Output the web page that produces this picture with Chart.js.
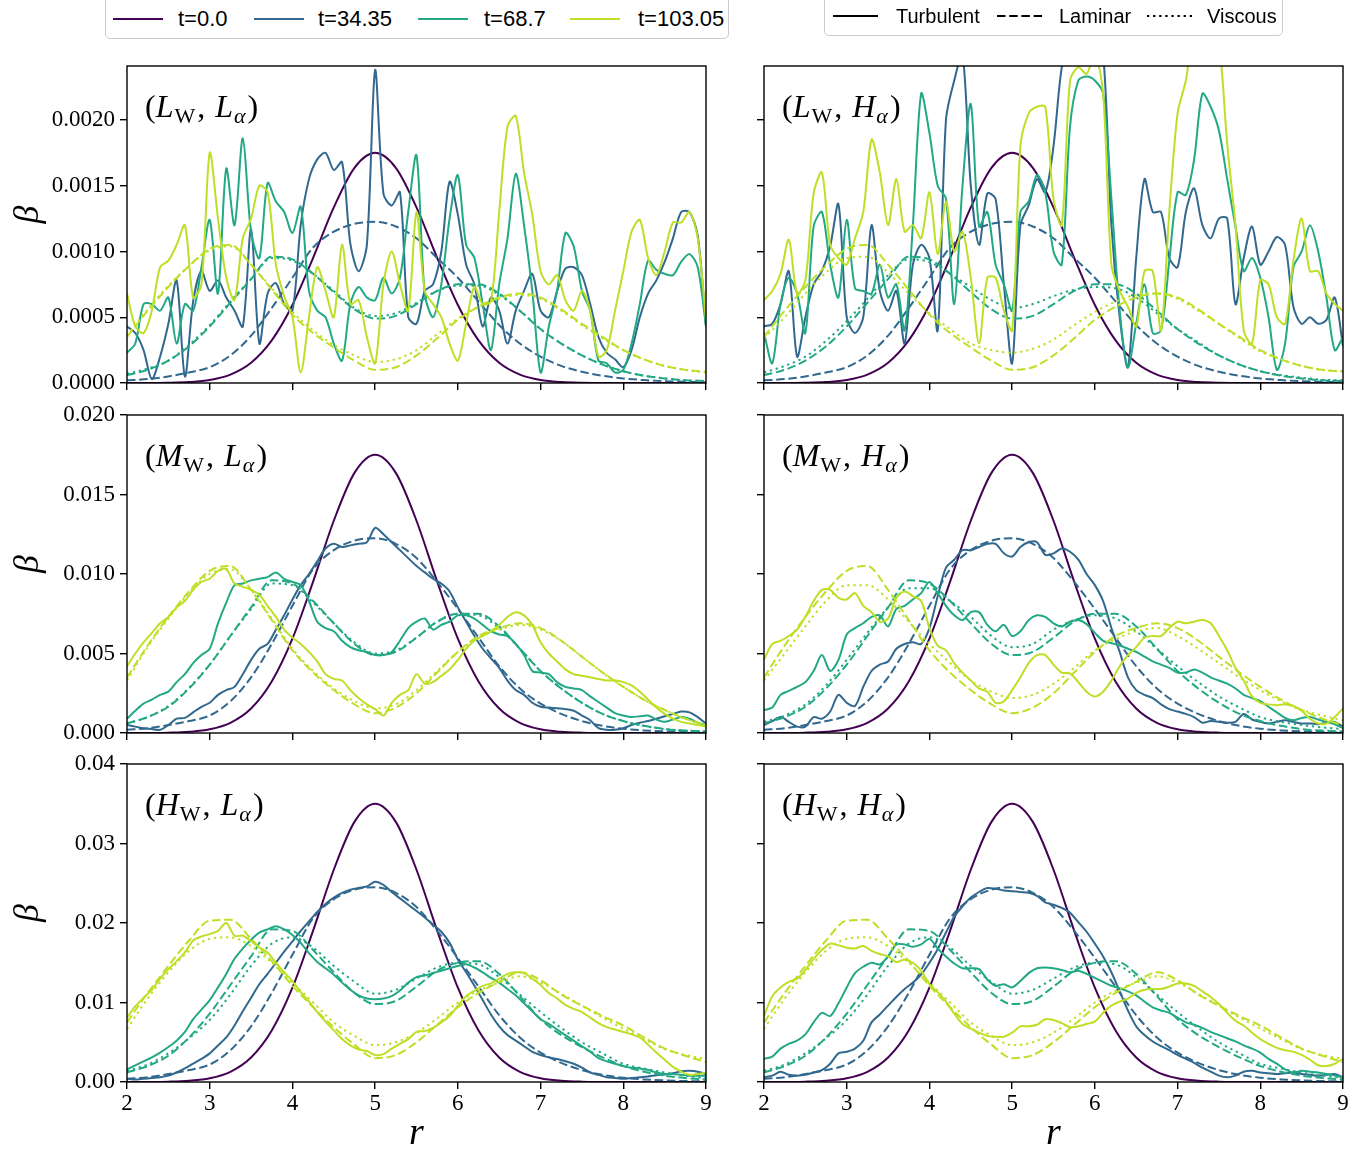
<!DOCTYPE html>
<html>
<head>
<meta charset="utf-8">
<title>beta profiles</title>
<script src="https://cdn.jsdelivr.net/npm/chart.js@4.4.1/dist/chart.umd.min.js"></script>
<style>
  html, body { margin: 0; padding: 0; background: #fff; }
  body { position: relative; width: 1372px; height: 1154px; overflow: hidden; }
  canvas { position: absolute; }
  .legend { position: absolute; background: #fff; border: 1px solid #cccccc; border-radius: 5px; z-index: 2; box-sizing: border-box; }
  .legend svg, .legend span { position: absolute; }
  .legend span { font-family: "Liberation Sans", Arial, sans-serif; color: #000; line-height: 1; white-space: nowrap; }
</style>
</head>
<body>
<div class="legend" id="legendTime" style="left:105px; top:-4px; width:624px; height:43px;"></div>
<div class="legend" id="legendModel" style="left:824px; top:-4px; width:459px; height:40px;"></div>
<script>
// beta values are stored in units of 1e-3

// r grids
const rCoarse = [2, 2.25, 2.5, 2.75, 3, 3.25, 3.5, 3.75, 4, 4.25, 4.5, 4.75, 5, 5.25, 5.5, 5.75,
  6, 6.25, 6.5, 6.75, 7, 7.25, 7.5, 7.75, 8, 8.25, 8.5, 8.75, 9];
const rFine = [
  2.0, 2.1, 2.2, 2.3, 2.4, 2.5, 2.6, 2.7, 2.8, 2.9,
  3.0, 3.1, 3.2, 3.3, 3.4, 3.5, 3.6, 3.7, 3.8, 3.9,
  4.0, 4.1, 4.2, 4.3, 4.4, 4.5, 4.6, 4.7, 4.8, 4.9,
  5.0, 5.1, 5.2, 5.3, 5.4, 5.5, 5.6, 5.7, 5.8, 5.9,
  6.0, 6.1, 6.2, 6.3, 6.4, 6.5, 6.6, 6.7, 6.8, 6.9,
  7.0, 7.1, 7.2, 7.3, 7.4, 7.5, 7.6, 7.7, 7.8, 7.9,
  8.0, 8.1, 8.2, 8.3, 8.4, 8.5, 8.6, 8.7, 8.8, 8.9,
  9.0];

// legend entries
const timeLabels = ['t=0.0', 't=34.35', 't=68.7', 't=103.05'];
const modelLabels = ['Turbulent', 'Laminar', 'Viscous'];

// axis ticks
const xTicks = [2, 3, 4, 5, 6, 7, 8, 9];
const xTickLabels = ['2', '3', '4', '5', '6', '7', '8', '9'];
const yTicksTop = [0, 0.5, 1, 1.5, 2];
const yLabelsTop = ['0.0000', '0.0005', '0.0010', '0.0015', '0.0020'];
const yTicksMid = [0, 5, 10, 15, 20];
const yLabelsMid = ['0.000', '0.005', '0.010', '0.015', '0.020'];
const yTicksBot = [0, 10, 20, 30, 40];
const yLabelsBot = ['0.00', '0.01', '0.02', '0.03', '0.04'];

// t = 0 profile (same in every column)
const t0Top = [0.0001, 0.0005, 0.002, 0.0074, 0.023, 0.064, 0.154, 0.324, 0.593, 0.952, 1.335, 1.636, 1.75,
  1.636, 1.335, 0.952, 0.593, 0.324, 0.154, 0.064, 0.023, 0.0074, 0.002, 0.0005, 0.0001, 0, 0, 0, 0];
const t0Mid = [0.001, 0.005, 0.02, 0.074, 0.23, 0.64, 1.54, 3.24, 5.93, 9.52, 13.35, 16.36, 17.5,
  16.36, 13.35, 9.52, 5.93, 3.24, 1.54, 0.64, 0.23, 0.074, 0.02, 0.005, 0.001, 0, 0, 0, 0];
const t0Bot = [0.002, 0.01, 0.04, 0.15, 0.46, 1.28, 3.08, 6.48, 11.86, 19.04, 26.7, 32.72, 35,
  32.72, 26.7, 19.04, 11.86, 6.48, 3.08, 1.28, 0.46, 0.15, 0.04, 0.01, 0.002, 0, 0, 0, 0];

// laminar (dashed), same in both columns of a row
const lamBlueTop = [0.02, 0.03, 0.05, 0.08, 0.12, 0.21, 0.36, 0.57, 0.8, 1.03, 1.15, 1.21, 1.225,
  1.19, 1.1, 0.95, 0.8, 0.62, 0.44, 0.3, 0.2, 0.13, 0.085, 0.055, 0.035, 0.022, 0.014, 0.009, 0.006];
const lamTealTop = [0.06, 0.1, 0.17, 0.28, 0.43, 0.61, 0.79, 0.96, 0.94, 0.83, 0.69, 0.56, 0.49,
  0.51, 0.6, 0.7, 0.75, 0.75, 0.68, 0.55, 0.41, 0.3, 0.21, 0.14, 0.09, 0.055, 0.035, 0.02, 0.015];
const lamYellowTop = [0.35, 0.55, 0.73, 0.89, 1.02, 1.05, 0.9, 0.71, 0.52, 0.38, 0.27, 0.17, 0.1,
  0.12, 0.21, 0.34, 0.48, 0.58, 0.65, 0.68, 0.65, 0.56, 0.45, 0.35, 0.25, 0.18, 0.13, 0.1, 0.085];
const lamBlueMid = [0.2, 0.3, 0.5, 0.75, 1.1, 2.0, 3.5, 5.6, 8.0, 10.3, 11.5, 12.1, 12.25,
  11.9, 11.0, 9.5, 7.8, 6.0, 4.2, 2.8, 1.85, 1.2, 0.75, 0.45, 0.27, 0.16, 0.1, 0.06, 0.04];
const lamTealMid = [0.6, 1.0, 1.65, 2.8, 4.3, 6.1, 7.9, 9.6, 9.4, 8.3, 6.9, 5.6, 4.9,
  5.1, 6.0, 7.0, 7.5, 7.5, 6.7, 5.3, 3.9, 2.8, 1.9, 1.2, 0.75, 0.45, 0.25, 0.15, 0.1];
const lamYellowMid = [3.5, 5.5, 7.3, 8.9, 10.2, 10.5, 9.0, 7.1, 5.2, 3.8, 2.7, 1.8, 1.25,
  1.6, 2.5, 3.8, 5.1, 6.1, 6.6, 6.9, 6.6, 5.8, 4.8, 3.8, 2.9, 2.1, 1.45, 0.9, 0.5];
const lamBlueBot = [0.4, 0.6, 1.0, 1.5, 2.2, 4.0, 7.0, 11.2, 16.0, 20.6, 23.0, 24.2, 24.5,
  23.8, 22.0, 19.0, 15.6, 12.0, 8.4, 5.6, 3.7, 2.4, 1.5, 0.9, 0.54, 0.32, 0.2, 0.12, 0.08];
const lamTealBot = [1.2, 2.0, 3.3, 5.6, 8.6, 12.2, 15.8, 19.2, 19.0, 16.6, 13.8, 11.2, 9.8,
  10.2, 12.0, 14.0, 15.0, 15.2, 13.6, 10.8, 7.9, 5.9, 4.4, 3.1, 2.0, 1.3, 0.8, 0.5, 0.3];
const lamYellowBot = [7.5, 11.2, 14.6, 17.8, 20.3, 20.4, 18.0, 15.2, 12.1, 9.4, 6.9, 4.7, 3.0,
  3.4, 5.0, 7.2, 9.4, 11.2, 12.6, 13.8, 12.8, 11.0, 9.6, 8.3, 7.1, 5.6, 4.2, 3.3, 2.5];

// viscous (dotted)
const visTealTL = [0.07, 0.11, 0.17, 0.29, 0.44, 0.62, 0.79, 0.95, 0.93, 0.83, 0.7, 0.57, 0.51,
  0.53, 0.61, 0.7, 0.74, 0.74, 0.67, 0.55, 0.41, 0.3, 0.21, 0.14, 0.09, 0.055, 0.035, 0.02, 0.015];
const visYellowTL = [0.36, 0.56, 0.74, 0.89, 1.01, 1.04, 0.9, 0.72, 0.54, 0.4, 0.29, 0.21, 0.16,
  0.18, 0.25, 0.37, 0.49, 0.58, 0.64, 0.67, 0.64, 0.55, 0.44, 0.34, 0.25, 0.18, 0.13, 0.1, 0.08];
const visTealTR = [0.08, 0.13, 0.2, 0.32, 0.47, 0.64, 0.82, 0.94, 0.92, 0.83, 0.73, 0.63, 0.57,
  0.6, 0.66, 0.71, 0.73, 0.72, 0.65, 0.53, 0.41, 0.31, 0.21, 0.14, 0.09, 0.06, 0.04, 0.025, 0.02];
const visYellowTR = [0.34, 0.5, 0.68, 0.84, 0.95, 0.96, 0.84, 0.68, 0.53, 0.41, 0.3, 0.25, 0.23,
  0.26, 0.33, 0.44, 0.54, 0.62, 0.67, 0.68, 0.64, 0.55, 0.45, 0.34, 0.24, 0.18, 0.13, 0.1, 0.09];
const visTealML = [0.6, 1.0, 1.7, 2.85, 4.3, 6.1, 7.8, 9.4, 9.3, 8.2, 6.9, 5.7, 5.0,
  5.2, 6.0, 7.0, 7.5, 7.4, 6.6, 5.3, 3.9, 2.8, 1.9, 1.2, 0.75, 0.45, 0.25, 0.15, 0.1];
const visYellowML = [3.3, 5.4, 7.2, 8.8, 10.0, 10.3, 9.0, 7.2, 5.3, 3.9, 2.8, 2.0, 1.55,
  1.8, 2.7, 3.9, 5.1, 6.0, 6.5, 6.8, 6.5, 5.8, 4.8, 3.8, 2.9, 2.1, 1.45, 0.9, 0.5];
const visTealMR = [0.7, 1.1, 1.8, 3.0, 4.6, 6.3, 7.9, 9.1, 9.1, 8.3, 7.3, 6.1, 5.4,
  5.6, 6.5, 7.1, 7.4, 7.2, 6.4, 5.3, 4.2, 3.2, 2.3, 1.6, 1.0, 0.7, 0.5, 0.35, 0.25];
const visYellowMR = [3.3, 5.0, 6.7, 8.3, 9.3, 9.3, 8.4, 7.0, 5.6, 4.4, 3.3, 2.6, 2.2,
  2.4, 3.1, 4.1, 5.2, 5.9, 6.4, 6.6, 6.1, 5.3, 4.4, 3.5, 2.7, 2.0, 1.45, 1.1, 0.8];
const visTealBot = [1.4, 2.2, 3.6, 5.5, 7.8, 11.0, 14.6, 17.4, 18.2, 16.9, 14.6, 12.6, 11.1,
  11.6, 13.0, 14.4, 15.0, 14.8, 13.2, 11.0, 8.8, 6.8, 5.0, 3.6, 2.3, 1.7, 1.2, 0.8, 0.5];
const visYellowBot = [6.7, 10.5, 13.8, 16.5, 18.0, 18.2, 17.1, 15.0, 12.5, 10.0, 7.5, 5.8, 4.65,
  5.0, 6.2, 8.0, 10.0, 11.5, 12.5, 13.3, 12.5, 11.1, 9.6, 8.1, 6.7, 5.4, 4.15, 3.4, 2.9];

// turbulent (solid), on rFine
const turbBlueTL = [
  0.43, 0.38, 0.25, 0.03, 0.2, 0.45, 0.78, 0.05, 0.62, 0.85,
  0.7, 0.78, 0.65, 0.55, 0.43, 1.17, 0.3, 0.68, 0.76, 0.6,
  0.55, 1.2, 1.55, 1.7, 1.75, 1.62, 1.68, 1.06, 0.85, 1.05,
  2.38, 1.44, 1.35, 1.45, 0.5, 0.45, 0.7, 0.75, 1.0, 1.53,
  1.28, 0.9, 0.75, 0.43, 0.65, 0.55, 0.3, 0.55, 0.7, 0.83,
  0.55, 0.5, 0.7, 0.87, 0.88, 0.82, 0.6, 0.35, 0.23, 0.18,
  0.12, 0.25, 0.5, 0.68, 0.78, 0.92, 1.1, 1.3, 1.3, 1.12,
  0.43];
const turbTealTL = [
  0.23, 0.3, 0.6, 0.6, 0.55, 0.65, 0.3, 0.6, 0.55, 0.88,
  1.24, 0.68, 1.63, 1.2, 1.86, 1.15, 0.95, 1.52, 1.38, 1.3,
  1.14, 1.34, 0.7, 0.55, 0.5, 0.3, 0.17, 0.6, 0.73, 0.65,
  0.63, 0.8, 0.68, 0.8, 1.3, 1.73, 0.68, 0.5, 0.75, 1.25,
  1.58, 1.05, 0.95, 0.6, 0.25, 0.75, 1.1, 1.59, 1.2, 0.7,
  0.08, 0.43, 0.7, 1.14, 1.04, 0.7, 0.55, 0.17, 0.15, 0.08,
  0.1, 0.3, 0.6, 0.93, 0.86, 0.83, 0.82, 0.92, 0.98, 0.88,
  0.43];
const turbYellowTL = [
  0.68, 0.43, 0.38, 0.55, 0.88, 0.93, 1.05, 1.2, 0.65, 0.75,
  1.75, 1.25, 0.8, 0.63, 1.1, 1.25, 1.5, 1.45, 0.9, 0.66,
  0.5, 0.08, 0.5, 0.88, 0.7, 0.5, 1.05, 0.6, 0.63, 0.35,
  0.15, 0.75, 1.0, 0.75, 0.55, 1.3, 0.7, 0.6, 0.5, 0.3,
  0.17, 0.45, 0.73, 0.6, 0.62, 1.3, 1.95, 2.03, 1.6, 1.28,
  0.85, 0.75, 0.82, 0.63, 0.55, 0.7, 0.55, 0.2, 0.25, 0.55,
  0.85, 1.15, 1.24, 0.95, 0.82, 1.0, 1.22, 1.22, 1.3, 1.1,
  0.48];
const turbBlueTR = [
  0.43, 0.45, 0.6, 0.85, 0.2, 0.5, 0.75, 0.85, 1.04, 1.36,
  0.5, 0.38, 0.5, 1.2, 0.7, 0.55, 0.7, 0.3, 0.9, 1.05,
  0.95, 0.4, 2.0, 2.3, 2.5, 1.5, 1.05, 1.44, 1.4, 0.75,
  0.15, 1.2, 1.35, 1.55, 1.45, 1.8, 2.4, 2.6, 2.6, 2.7,
  2.6, 2.5, 1.2, 0.5, 0.12, 0.95, 1.55, 1.3, 1.3, 0.95,
  0.88, 1.3, 1.48, 1.2, 1.1, 1.25, 1.25, 0.6, 0.95, 1.19,
  0.9, 1.0, 1.11, 1.05, 0.58, 0.45, 0.5, 0.45, 0.48, 0.65,
  0.28];
const turbTealTR = [
  0.38, 0.15, 0.6, 0.8, 0.68, 0.38, 1.19, 1.3, 0.9, 0.65,
  1.24, 0.72, 0.7, 0.68, 0.9, 0.65, 0.75, 0.4, 1.2, 2.2,
  1.9, 1.5, 1.4, 0.6, 1.5, 2.12, 1.19, 1.3, 0.9, 0.75,
  0.55, 1.3, 1.38, 1.58, 1.45, 1.0, 0.9, 1.95, 2.3, 2.33,
  2.3, 2.2, 1.4, 0.55, 0.12, 0.45, 0.75, 0.38, 0.4, 0.93,
  1.45, 1.43, 1.7, 2.2, 2.1, 1.92, 1.55, 1.19, 0.85, 0.95,
  0.8, 0.5, 0.1, 0.3, 0.88, 1.0, 1.2, 1.0, 0.65, 0.25,
  0.35];
const turbYellowTR = [
  0.63, 0.7, 0.83, 1.09, 0.68, 0.78, 1.44, 1.6, 1.05, 0.95,
  0.9, 1.1, 1.3, 1.85, 1.6, 1.2, 1.55, 1.15, 1.2, 1.1,
  1.45, 0.98, 1.38, 1.0, 1.15, 0.8, 0.3, 0.8, 0.8, 0.55,
  0.4, 1.8, 2.05, 2.1, 2.1, 1.4, 1.2, 2.3, 2.4, 2.35,
  2.5, 2.2, 0.9, 0.7, 0.58, 0.43, 0.85, 0.85, 0.4, 1.3,
  2.05, 2.3, 2.7, 2.8, 2.8, 2.6, 1.82, 1.2, 0.4, 0.3,
  0.78, 0.75, 0.5, 0.45, 0.93, 1.25, 0.85, 0.85, 0.68, 0.6,
  0.55];
const turbBlueML = [
  0.5, 0.4, 0.3, 0.25, 0.2, 0.5, 0.9, 0.95, 1.3, 1.65,
  1.9, 2.4, 2.7, 2.9, 3.7, 4.6, 5.3, 5.6, 6.5, 7.4,
  8.4, 9.3, 10.0, 10.8, 11.6, 11.9, 11.7, 11.8, 11.9, 12.0,
  12.9, 12.5, 12.0, 11.5, 11.0, 10.5, 10.1, 9.7, 9.4, 8.9,
  7.9, 7.0, 6.1, 5.3, 4.7, 4.1, 3.3, 2.7, 2.4, 1.9,
  1.65, 1.6, 1.55, 1.5, 1.4, 1.1, 0.8, 0.3, 0.2, 0.2,
  0.3, 0.5, 0.65, 0.75, 0.9, 1.05, 1.2, 1.35, 1.3, 1.0,
  0.6];
const turbTealML = [
  0.9, 1.4, 1.85, 2.1, 2.4, 2.6, 3.2, 3.7, 4.4, 4.9,
  5.3, 6.9, 8.2, 9.3, 9.4, 9.6, 9.7, 9.8, 10.1, 9.7,
  9.5, 9.3, 8.3, 7.0, 6.6, 6.4, 5.8, 5.4, 5.2, 5.1,
  4.9, 4.9, 5.1, 5.8, 6.6, 7.0, 7.2, 6.5, 6.8, 7.0,
  7.4, 7.4, 7.2, 6.8, 6.4, 6.2, 6.1, 5.6, 4.9, 3.9,
  3.8, 3.7, 3.2, 2.9, 2.8, 2.7, 2.3, 1.95, 1.6, 1.25,
  1.1, 1.0, 1.05, 1.1, 0.85, 0.7, 0.85, 1.0, 0.9, 0.65,
  0.5];
const turbYellowML = [
  4.2, 5.0, 5.7, 6.3, 6.9, 7.3, 7.9, 8.3, 9.0, 9.5,
  9.7, 10.2, 10.3, 9.4, 9.2, 9.0, 8.7, 8.0, 7.3, 6.5,
  6.0, 5.6, 5.1, 4.5, 3.7, 3.4, 3.3, 2.7, 2.2, 1.8,
  1.5, 1.1, 1.9, 2.4, 2.7, 3.7, 3.1, 3.2, 3.6, 4.0,
  4.6, 5.3, 5.8, 6.1, 6.4, 6.8, 7.3, 7.6, 7.4, 6.8,
  5.7, 5.0, 4.5, 4.0, 3.7, 3.6, 3.5, 3.4, 3.3, 3.3,
  3.2, 3.0, 2.6, 2.1, 1.6, 1.2, 0.9, 0.7, 0.6, 0.5,
  0.4];
const turbBlueMR = [
  0.5, 0.75, 1.0, 0.7, 0.4, 0.4, 1.0, 0.9, 1.35, 2.4,
  1.9, 1.7, 2.9, 3.9, 4.3, 4.5, 5.3, 5.6, 5.7, 5.6,
  6.6, 8.6, 10.4, 10.9, 11.5, 11.5, 11.7, 11.9, 11.9, 11.3,
  11.1, 11.7, 12.0, 12.0, 11.2, 11.3, 11.6, 11.4, 10.9, 10.0,
  9.3, 8.3, 6.6, 5.1, 3.5, 2.7, 2.4, 2.2, 1.8, 1.5,
  1.35, 1.2, 1.0, 0.65, 0.75, 0.7, 0.65, 0.7, 1.2, 0.85,
  0.7, 0.6, 0.7, 0.8, 0.7, 0.6, 0.6, 0.55, 0.65, 0.7,
  0.4];
const turbTealMR = [
  1.45, 1.6, 2.4, 2.65, 2.9, 3.2, 3.9, 4.9, 3.9, 4.6,
  6.2, 6.6, 6.9, 7.3, 7.4, 6.7, 7.8, 8.0, 8.4, 8.8,
  9.5, 8.8, 8.0, 7.4, 7.1, 7.6, 7.6, 6.8, 6.4, 6.8,
  6.1, 6.4, 7.1, 7.4, 7.3, 6.9, 6.7, 7.0, 7.1, 6.85,
  6.3, 5.8, 5.65, 5.5, 5.3, 5.1, 4.8, 4.5, 4.3, 4.1,
  3.8, 3.8, 4.0, 3.8, 3.5, 3.3, 3.1, 2.8, 2.4, 2.2,
  2.0, 1.65, 1.3, 0.95, 0.8, 0.95, 1.0, 0.85, 0.7, 0.55,
  0.3];
const turbYellowMR = [
  4.6, 5.6, 5.8, 6.1, 6.5, 7.3, 8.3, 9.0, 9.0, 8.5,
  8.4, 8.8, 8.0, 7.6, 7.0, 7.2, 8.5, 8.9, 8.6, 8.3,
  6.6, 5.5, 5.2, 4.4, 3.8, 3.3, 2.8, 2.6, 1.9, 2.0,
  2.7, 3.5, 4.4, 4.9, 4.9, 4.3, 3.8, 3.75, 3.2, 2.6,
  2.3, 2.6, 3.3, 4.2, 4.9, 5.4, 6.0, 6.1, 6.1, 6.6,
  7.0, 6.9, 7.0, 7.1, 6.9, 6.1, 5.2, 4.1, 3.3, 2.3,
  1.9, 1.8, 1.75, 1.8, 1.7, 1.4, 0.9, 0.6, 0.6, 1.0,
  1.55];
const turbBlueBL = [
  0.4, 0.3, 0.4, 0.5, 0.6, 0.8, 1.2, 1.7, 2.3, 2.9,
  3.6, 4.6, 5.6, 7.1, 8.9, 10.6, 12.3, 13.6, 15.0, 16.4,
  17.7, 19.0, 20.2, 21.4, 22.4, 23.2, 23.8, 24.2, 24.4, 24.6,
  25.2, 24.8, 23.9, 23.1, 22.3, 21.5, 20.7, 19.8, 18.9, 17.5,
  15.4, 13.8, 12.1, 10.3, 8.5, 7.0, 5.9, 5.2, 4.5, 3.8,
  3.4, 3.1, 2.9, 2.6, 2.3, 1.8, 1.2, 0.9, 0.6, 0.5,
  0.4, 0.5, 0.6, 0.7, 0.85, 0.95, 1.1, 1.35, 1.4, 1.3,
  1.0];
const turbTealBL = [
  1.6, 2.1, 2.6, 3.1, 3.7, 4.4, 5.2, 6.3, 7.9, 9.1,
  10.3, 11.9, 13.6, 15.5, 16.8, 17.9, 18.8, 19.2, 19.6, 19.2,
  18.5, 17.5, 16.2, 15.1, 14.3, 13.5, 12.5, 11.6, 10.9, 10.5,
  10.4, 10.5, 10.8, 11.5, 12.5, 13.2, 13.4, 13.7, 14.0, 14.3,
  14.6, 14.8, 14.4, 13.8, 13.1, 12.5, 11.7, 10.9, 9.9, 8.9,
  7.9, 7.3, 6.6, 5.9, 5.2, 4.5, 3.8, 3.0, 2.6, 2.3,
  2.0, 1.8, 1.7, 1.5, 1.2, 1.0, 1.0, 0.9, 0.8, 0.8,
  0.8];
const turbYellowBL = [
  8.1, 9.5, 10.6, 11.6, 13.0, 14.2, 15.2, 16.3, 17.8, 18.3,
  18.6, 19.0, 20.0, 18.4, 18.4, 17.7, 16.9, 16.3, 15.0, 13.8,
  12.7, 11.3, 10.1, 8.8, 7.6, 6.5, 5.4, 4.6, 4.1, 3.9,
  3.4, 3.5, 4.2, 4.8, 5.4, 6.3, 6.4, 6.8, 7.5, 8.3,
  9.6, 10.8, 11.5, 12.1, 12.4, 13.0, 13.6, 13.8, 13.7, 13.0,
  12.2, 11.2, 10.5, 9.7, 9.2, 8.8, 8.1, 7.4, 6.9, 6.6,
  6.3, 6.0, 5.6, 4.7, 3.7, 2.8, 1.9, 1.3, 0.9, 1.0,
  1.2];
const turbBlueBR = [
  0.6, 0.8, 1.3, 0.9, 0.8, 0.9, 1.2, 1.5, 2.3, 3.6,
  3.8, 4.2, 5.2, 7.5, 8.5, 9.6, 10.7, 11.7, 12.5, 13.5,
  15.0, 16.7, 18.8, 20.8, 22.1, 23.2, 23.9, 24.4, 24.3, 24.1,
  24.0, 23.9, 23.8, 23.4, 22.6, 22.3, 21.9, 21.3, 20.1, 18.9,
  17.4, 15.8, 13.8, 11.4, 9.0, 7.0, 5.9, 5.1, 4.5, 4.0,
  3.4, 2.9, 2.4, 1.8, 1.3, 0.8, 0.6, 0.8, 1.3, 1.4,
  1.2, 1.1, 1.0, 1.1, 1.2, 1.0, 0.9, 0.8, 0.9, 1.0,
  0.6];
const turbTealBR = [
  2.9, 3.2, 4.2, 4.8, 5.2, 6.0, 7.5, 8.7, 8.3, 9.9,
  11.9, 13.7, 14.5, 15.0, 14.8, 15.8, 17.3, 17.3, 17.0, 17.3,
  18.0, 16.8, 15.8, 14.9, 14.3, 14.3, 14.2, 12.9, 12.1, 12.3,
  11.9, 12.7, 13.7, 14.3, 14.4, 14.3, 14.1, 13.8, 14.0, 13.6,
  13.1, 12.6, 12.1, 11.8, 11.4, 10.9, 10.1, 9.4, 9.0, 8.7,
  8.1, 7.5, 7.2, 6.8, 6.3, 5.9, 5.5, 5.1, 4.6, 4.2,
  3.7, 2.9, 2.3, 1.6, 1.2, 1.4, 1.3, 1.2, 1.0, 0.8,
  0.6];
const turbYellowBR = [
  8.3, 10.8, 11.9, 12.6, 13.0, 14.1, 15.5, 16.6, 17.4, 17.2,
  16.9, 16.8, 17.1, 16.5, 16.1, 15.8, 15.1, 15.4, 15.0, 14.0,
  12.3, 11.3, 10.1, 8.6, 7.3, 6.7, 6.2, 5.8, 5.7, 5.7,
  6.2, 7.0, 7.0, 7.2, 7.9, 7.8, 7.4, 6.9, 7.0, 7.3,
  7.6, 8.7, 9.6, 10.1, 10.5, 11.2, 11.6, 11.7, 11.7, 12.0,
  12.4, 12.4, 12.1, 11.4, 10.7, 9.8, 8.7, 7.7, 7.1, 6.2,
  5.4, 4.8, 4.3, 4.0, 3.8, 3.4, 2.8, 2.1, 2.0, 2.3,
  2.9];

// styles
const timeColors = ['#440154', '#31688e', '#22a884', '#bddf26'];
const DASHED = [8.5, 3.7];
const DOTTED = [2.3, 3.8];
const SERIF = '"Liberation Serif", "DejaVu Serif", serif';

Chart.defaults.font.family = SERIF;
Chart.defaults.color = '#000';

const rows = [
  { top: 36, height: 380, padTop: 30, axisH: 33, max: 2.41, ticks: yTicksTop, labels: yLabelsTop },
  { top: 385, height: 380, padTop: 30, axisH: 32, max: 20, ticks: yTicksMid, labels: yLabelsMid },
  { top: 734, height: 420, padTop: 30, axisH: 72, max: 40, ticks: yTicksBot, labels: yLabelsBot }
];
const cols = [
  { left: 0, width: 730, axisW: 127, padRight: 24 },
  { left: 737, width: 630, axisW: 27, padRight: 24 }
];

const panels = [
  { row: 0, col: 0, w: 'L', a: 'L', t0: t0Top,
    turb: [turbBlueTL, turbTealTL, turbYellowTL], lam: [lamBlueTop, lamTealTop, lamYellowTop], vis: [null, visTealTL, visYellowTL] },
  { row: 0, col: 1, w: 'L', a: 'H', t0: t0Top,
    turb: [turbBlueTR, turbTealTR, turbYellowTR], lam: [lamBlueTop, lamTealTop, lamYellowTop], vis: [null, visTealTR, visYellowTR] },
  { row: 1, col: 0, w: 'M', a: 'L', t0: t0Mid,
    turb: [turbBlueML, turbTealML, turbYellowML], lam: [lamBlueMid, lamTealMid, lamYellowMid], vis: [null, visTealML, visYellowML] },
  { row: 1, col: 1, w: 'M', a: 'H', t0: t0Mid,
    turb: [turbBlueMR, turbTealMR, turbYellowMR], lam: [lamBlueMid, lamTealMid, lamYellowMid], vis: [null, visTealMR, visYellowMR] },
  { row: 2, col: 0, w: 'H', a: 'L', t0: t0Bot,
    turb: [turbBlueBL, turbTealBL, turbYellowBL], lam: [lamBlueBot, lamTealBot, lamYellowBot], vis: [null, visTealBot, visYellowBot] },
  { row: 2, col: 1, w: 'H', a: 'H', t0: t0Bot,
    turb: [turbBlueBR, turbTealBR, turbYellowBR], lam: [lamBlueBot, lamTealBot, lamYellowBot], vis: [null, visTealBot, visYellowBot] }
];

function series(xs, ys, color, dash, smooth) {
  if (xs.length !== ys.length) throw new Error('length mismatch ' + ys.length);
  return {
    data: xs.map((x, i) => ({ x: x, y: ys[i] })),
    borderColor: color,
    borderWidth: 2,
    borderDash: dash,
    borderJoinStyle: 'round',
    pointRadius: 0,
    fill: false,
    tension: smooth ? 0.4 : 0.3,
    cubicInterpolationMode: smooth ? 'monotone' : 'default'
  };
}

// draws the frame, the panel label, and the axis titles
const panelText = {
  id: 'panelText',
  afterDraw(chart, args, o) {
    const { ctx, chartArea: a } = chart;
    ctx.save();
    ctx.strokeStyle = '#000';
    ctx.lineWidth = 1.4;
    ctx.strokeRect(a.left, a.top, a.right - a.left, a.bottom - a.top);

    ctx.fillStyle = '#000';
    ctx.textBaseline = 'alphabetic';
    ctx.textAlign = 'left';
    const parts = [
      ['(', 'rm'], [o.w, 'it'], ['W', 'sub'], [',', 'rm'], [' ', 'gap'],
      [o.a, 'it'], ['\u03b1', 'subit'], [')', 'rm']
    ];
    let x = a.left + 18;
    const base = a.top + 51;
    for (const [txt, kind] of parts) {
      if (kind === 'gap') { x += 10; continue; }
      let dy = 0;
      if (kind === 'rm') ctx.font = '32px ' + SERIF;
      if (kind === 'it') ctx.font = 'italic 32px ' + SERIF;
      if (kind === 'sub') { ctx.font = '22px ' + SERIF; dy = 6; }
      if (kind === 'subit') { ctx.font = 'italic 22px ' + SERIF; dy = 6; }
      ctx.fillText(txt, x, base + dy);
      x += ctx.measureText(txt).width + (kind === 'it' ? 1 : 0) + (kind === 'sub' || kind === 'subit' ? 2 : 0);
    }

    if (o.yLabel) {
      ctx.save();
      ctx.font = 'italic 36px ' + SERIF;
      ctx.textAlign = 'center';
      ctx.translate(38, (a.top + a.bottom) / 2 - 10);
      ctx.rotate(-Math.PI / 2);
      ctx.fillText('\u03b2', 0, 0);
      ctx.restore();
    }
    if (o.xLabel) {
      ctx.font = 'italic 38px ' + SERIF;
      ctx.textAlign = 'center';
      ctx.fillText('r', (a.left + a.right) / 2, a.bottom + 62);
    }
    ctx.restore();
  }
};

panels.forEach((p) => {
  const row = rows[p.row];
  const col = cols[p.col];
  const canvas = document.createElement('canvas');
  canvas.width = col.width;
  canvas.height = row.height;
  canvas.style.left = col.left + 'px';
  canvas.style.top = row.top + 'px';
  canvas.style.width = col.width + 'px';
  canvas.style.height = row.height + 'px';
  document.body.appendChild(canvas);

  const ds = [series(rCoarse, p.t0, timeColors[0], [], true)];
  for (let i = 0; i < 3; i++) {
    const c = timeColors[i + 1];
    ds.push(series(rFine, p.turb[i], c, [], false));
    ds.push(series(rCoarse, p.lam[i], c, DASHED, true));
    if (p.vis[i]) ds.push(series(rCoarse, p.vis[i], c, DOTTED, true));
  }
  ds.forEach((d, i) => { d.order = ds.length - i; });

  const tickGrid = { drawOnChartArea: false, drawTicks: true, tickLength: 7, color: '#000', lineWidth: 1.4 };

  new Chart(canvas, {
    type: 'line',
    data: { datasets: ds },
    options: {
      responsive: false,
      animation: false,
      devicePixelRatio: 1,
      events: [],
      layout: { padding: { top: row.padTop, right: col.padRight, left: 0, bottom: 0 } },
      plugins: {
        legend: { display: false },
        tooltip: { enabled: false },
        panelText: { w: p.w, a: p.a, yLabel: p.col === 0, xLabel: p.row === 2 }
      },
      scales: {
        x: {
          type: 'linear', min: 2, max: 9,
          afterBuildTicks: (s) => { s.ticks = xTicks.map(v => ({ value: v })); },
          afterFit: (s) => { s.height = row.axisH; },
          grid: tickGrid,
          border: { display: false },
          ticks: {
            display: p.row === 2, autoSkip: false, maxRotation: 0,
            padding: 1, font: { size: 23 },
            callback: (v, i) => xTickLabels[i]
          }
        },
        y: {
          type: 'linear', min: 0, max: row.max,
          afterBuildTicks: (s) => { s.ticks = row.ticks.map(v => ({ value: v })); },
          afterFit: (s) => { s.width = col.axisW; },
          grid: tickGrid,
          border: { display: false },
          ticks: {
            display: p.col === 0, autoSkip: false,
            padding: 5, font: { size: 23 },
            callback: (v, i) => row.labels[i]
          }
        }
      }
    },
    plugins: [panelText]
  });
});

// legends (HTML)
function legendLine(box, boxLeft, boxTop, x, y, len, color, dash) {
  const ns = 'http://www.w3.org/2000/svg';
  const svg = document.createElementNS(ns, 'svg');
  svg.setAttribute('width', len);
  svg.setAttribute('height', 6);
  svg.style.left = (x - boxLeft - 1) + 'px';
  svg.style.top = (y - 3 - boxTop - 1) + 'px';
  const ln = document.createElementNS(ns, 'line');
  ln.setAttribute('x1', 0); ln.setAttribute('y1', 3);
  ln.setAttribute('x2', len); ln.setAttribute('y2', 3);
  ln.setAttribute('stroke', color);
  ln.setAttribute('stroke-width', 2);
  if (dash.length) ln.setAttribute('stroke-dasharray', dash.join(' '));
  svg.appendChild(ln);
  box.appendChild(svg);
}
function legendText(box, boxLeft, boxTop, x, y, txt, size) {
  const s = document.createElement('span');
  s.textContent = txt;
  s.style.fontSize = size + 'px';
  s.style.left = (x - boxLeft - 1) + 'px';
  s.style.top = (y - size / 2 - boxTop - 1) + 'px';
  box.appendChild(s);
}

const legT = document.getElementById('legendTime');
const timeLineX = [113, 254, 418, 570];
const timeTextX = [178, 318, 484, 638];
timeLabels.forEach((lbl, i) => {
  legendLine(legT, 105, -4, timeLineX[i], 19, 50, timeColors[i], []);
  legendText(legT, 105, -4, timeTextX[i], 19, lbl, 22);
});

const legM = document.getElementById('legendModel');
const modelLineX = [833, 997, 1147];
const modelTextX = [896, 1059, 1207];
const modelDash = [[], DASHED, DOTTED];
modelLabels.forEach((lbl, i) => {
  legendLine(legM, 824, -4, modelLineX[i], 16, 45, '#000', modelDash[i]);
  legendText(legM, 824, -4, modelTextX[i], 16, lbl, 20);
});
</script>
</body>
</html>
